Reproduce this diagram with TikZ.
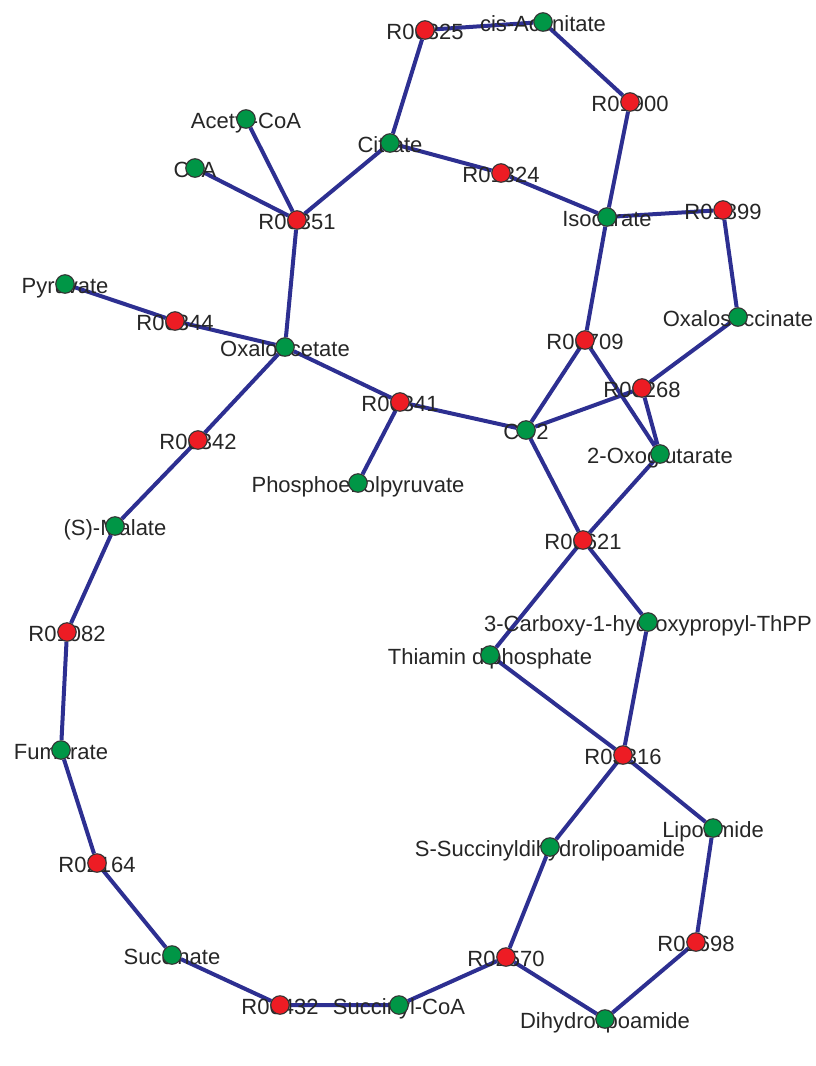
\documentclass[tikz,border=0pt]{standalone}
\usepackage{fontspec}
\setmainfont{Liberation Sans}
\usetikzlibrary{backgrounds}
\definecolor{rxnred}{RGB}{237,28,36}
\definecolor{cpdgreen}{RGB}{0,150,70}
\definecolor{linkblue}{RGB}{45,47,145}
\tikzset{
rxn/.style={circle, draw=black!80, line width=1.1pt, fill=rxnred, minimum size=18.5pt, inner sep=0pt}, % reaction nodes
cpd/.style={circle, draw=black!80, line width=1.1pt, fill=cpdgreen, minimum size=18.5pt, inner sep=0pt}, % compound nodes
tag/.style={anchor=base, yshift=-9pt, inner sep=0pt, text=black!85, font=\fontsize{22}{24}\selectfont}, % names, set under the dots
link/.style={draw=linkblue, line width=4pt}, % edges of the network
}

\begin{document}
\begin{tikzpicture}[x=1pt, y=-1pt]
    \useasboundingbox (0,0) rectangle (815,1066);
    % names first, so that the dots cover them
    \node[tag] (tR00325) at (425,30) {R00325};
    \node[tag] (tcisAconitate) at (543,22) {cis-Aconitate};
    \node[tag] (tR01900) at (630,102) {R01900};
    \node[tag] (tAcetylCoA) at (246,119) {Acetyl-CoA};
    \node[tag] (tCitrate) at (390,143) {Citrate};
    \node[tag] (tCoA) at (195,168) {CoA};
    \node[tag] (tR01324) at (501,173) {R01324};
    \node[tag] (tIsocitrate) at (607,217) {Isocitrate};
    \node[tag] (tR01899) at (723,210) {R01899};
    \node[tag] (tR00351) at (297,220) {R00351};
    \node[tag] (tPyruvate) at (65,284) {Pyruvate};
    \node[tag] (tR00344) at (175,321) {R00344};
    \node[tag] (tOxaloacetate) at (285,347) {Oxaloacetate};
    \node[tag] (tOxalosuccinate) at (738,317) {Oxalosuccinate};
    \node[tag] (tR00709) at (585,340) {R00709};
    \node[tag] (tR00268) at (642,388) {R00268};
    \node[tag] (tR00341) at (400,402) {R00341};
    \node[tag] (tCO2) at (526,430) {CO2};
    \node[tag] (tR00342) at (198,440) {R00342};
    \node[tag] (tOxoglutarate) at (660,454) {2-Oxoglutarate};
    \node[tag] (tPEP) at (358,483) {Phosphoenolpyruvate};
    \node[tag] (tSMalate) at (115,526) {(S)-Malate};
    \node[tag] (tR00621) at (583,540) {R00621};
    \node[tag] (tCarboxyThPP) at (648,622) {3-Carboxy-1-hydroxypropyl-ThPP};
    \node[tag] (tThPP) at (490,655) {Thiamin diphosphate};
    \node[tag] (tR01082) at (67,632) {R01082};
    \node[tag] (tFumarate) at (61,750) {Fumarate};
    \node[tag] (tR03316) at (623,755) {R03316};
    \node[tag] (tLipoamide) at (713,828) {Lipoamide};
    \node[tag] (tSuccDHL) at (550,847) {S-Succinyldihydrolipoamide};
    \node[tag] (tR02164) at (97,863) {R02164};
    \node[tag] (tR01698) at (696,942) {R01698};
    \node[tag] (tSuccinate) at (172,955) {Succinate};
    \node[tag] (tR02570) at (506,957) {R02570};
    \node[tag] (tR00432) at (280,1005) {R00432};
    \node[tag] (tSuccinylCoA) at (399,1005) {Succinyl-CoA};
    \node[tag] (tDihydrolipoamide) at (605,1019) {Dihydrolipoamide};

    % reactions
    \node[rxn] (R00325) at (425,30) {};
    \node[rxn] (R01900) at (630,102) {};
    \node[rxn] (R01324) at (501,173) {};
    \node[rxn] (R01899) at (723,210) {};
    \node[rxn] (R00351) at (297,220) {};
    \node[rxn] (R00344) at (175,321) {};
    \node[rxn] (R00709) at (585,340) {};
    \node[rxn] (R00268) at (642,388) {};
    \node[rxn] (R00341) at (400,402) {};
    \node[rxn] (R00342) at (198,440) {};
    \node[rxn] (R00621) at (583,540) {};
    \node[rxn] (R01082) at (67,632) {};
    \node[rxn] (R03316) at (623,755) {};
    \node[rxn] (R02164) at (97,863) {};
    \node[rxn] (R01698) at (696,942) {};
    \node[rxn] (R02570) at (506,957) {};
    \node[rxn] (R00432) at (280,1005) {};

    % compounds
    \node[cpd] (cisAconitate) at (543,22) {};
    \node[cpd] (AcetylCoA) at (246,119) {};
    \node[cpd] (Citrate) at (390,143) {};
    \node[cpd] (CoA) at (195,168) {};
    \node[cpd] (Isocitrate) at (607,217) {};
    \node[cpd] (Pyruvate) at (65,284) {};
    \node[cpd] (Oxaloacetate) at (285,347) {};
    \node[cpd] (Oxalosuccinate) at (738,317) {};
    \node[cpd] (CO2) at (526,430) {};
    \node[cpd] (Oxoglutarate) at (660,454) {};
    \node[cpd] (PEP) at (358,483) {};
    \node[cpd] (SMalate) at (115,526) {};
    \node[cpd] (CarboxyThPP) at (648,622) {};
    \node[cpd] (ThPP) at (490,655) {};
    \node[cpd] (Fumarate) at (61,750) {};
    \node[cpd] (Lipoamide) at (713,828) {};
    \node[cpd] (SuccDHL) at (550,847) {};
    \node[cpd] (Succinate) at (172,955) {};
    \node[cpd] (SuccinylCoA) at (399,1005) {};
    \node[cpd] (Dihydrolipoamide) at (605,1019) {};

    % edges behind everything
    \begin{scope}[on background layer]
    \path[link] (R00325) -- (cisAconitate)
    (R00325) -- (Citrate)
    (cisAconitate) -- (R01900)
    (R01900) -- (Isocitrate)
    (Citrate) -- (R01324)
    (R01324) -- (Isocitrate)
    (Citrate) -- (R00351)
    (AcetylCoA) -- (R00351)
    (CoA) -- (R00351)
    (R00351) -- (Oxaloacetate)
    (Isocitrate) -- (R01899)
    (R01899) -- (Oxalosuccinate)
    (Isocitrate) -- (R00709)
    (Oxalosuccinate) -- (R00268)
    (R00709) -- (CO2)
    (R00709) -- (Oxoglutarate)
    (R00268) -- (CO2)
    (R00268) -- (Oxoglutarate)
    (Pyruvate) -- (R00344)
    (R00344) -- (Oxaloacetate)
    (Oxaloacetate) -- (R00341)
    (R00341) -- (CO2)
    (R00341) -- (PEP)
    (Oxaloacetate) -- (R00342)
    (R00342) -- (SMalate)
    (CO2) -- (R00621)
    (Oxoglutarate) -- (R00621)
    (R00621) -- (ThPP)
    (R00621) -- (CarboxyThPP)
    (ThPP) -- (R03316)
    (CarboxyThPP) -- (R03316)
    (R03316) -- (Lipoamide)
    (R03316) -- (SuccDHL)
    (Lipoamide) -- (R01698)
    (R01698) -- (Dihydrolipoamide)
    (SuccDHL) -- (R02570)
    (R02570) -- (Dihydrolipoamide)
    (R02570) -- (SuccinylCoA)
    (SuccinylCoA) -- (R00432)
    (R00432) -- (Succinate)
    (Succinate) -- (R02164)
    (R02164) -- (Fumarate)
    (Fumarate) -- (R01082)
    (R01082) -- (SMalate);
    \end{scope}
\end{tikzpicture}
\end{document}
